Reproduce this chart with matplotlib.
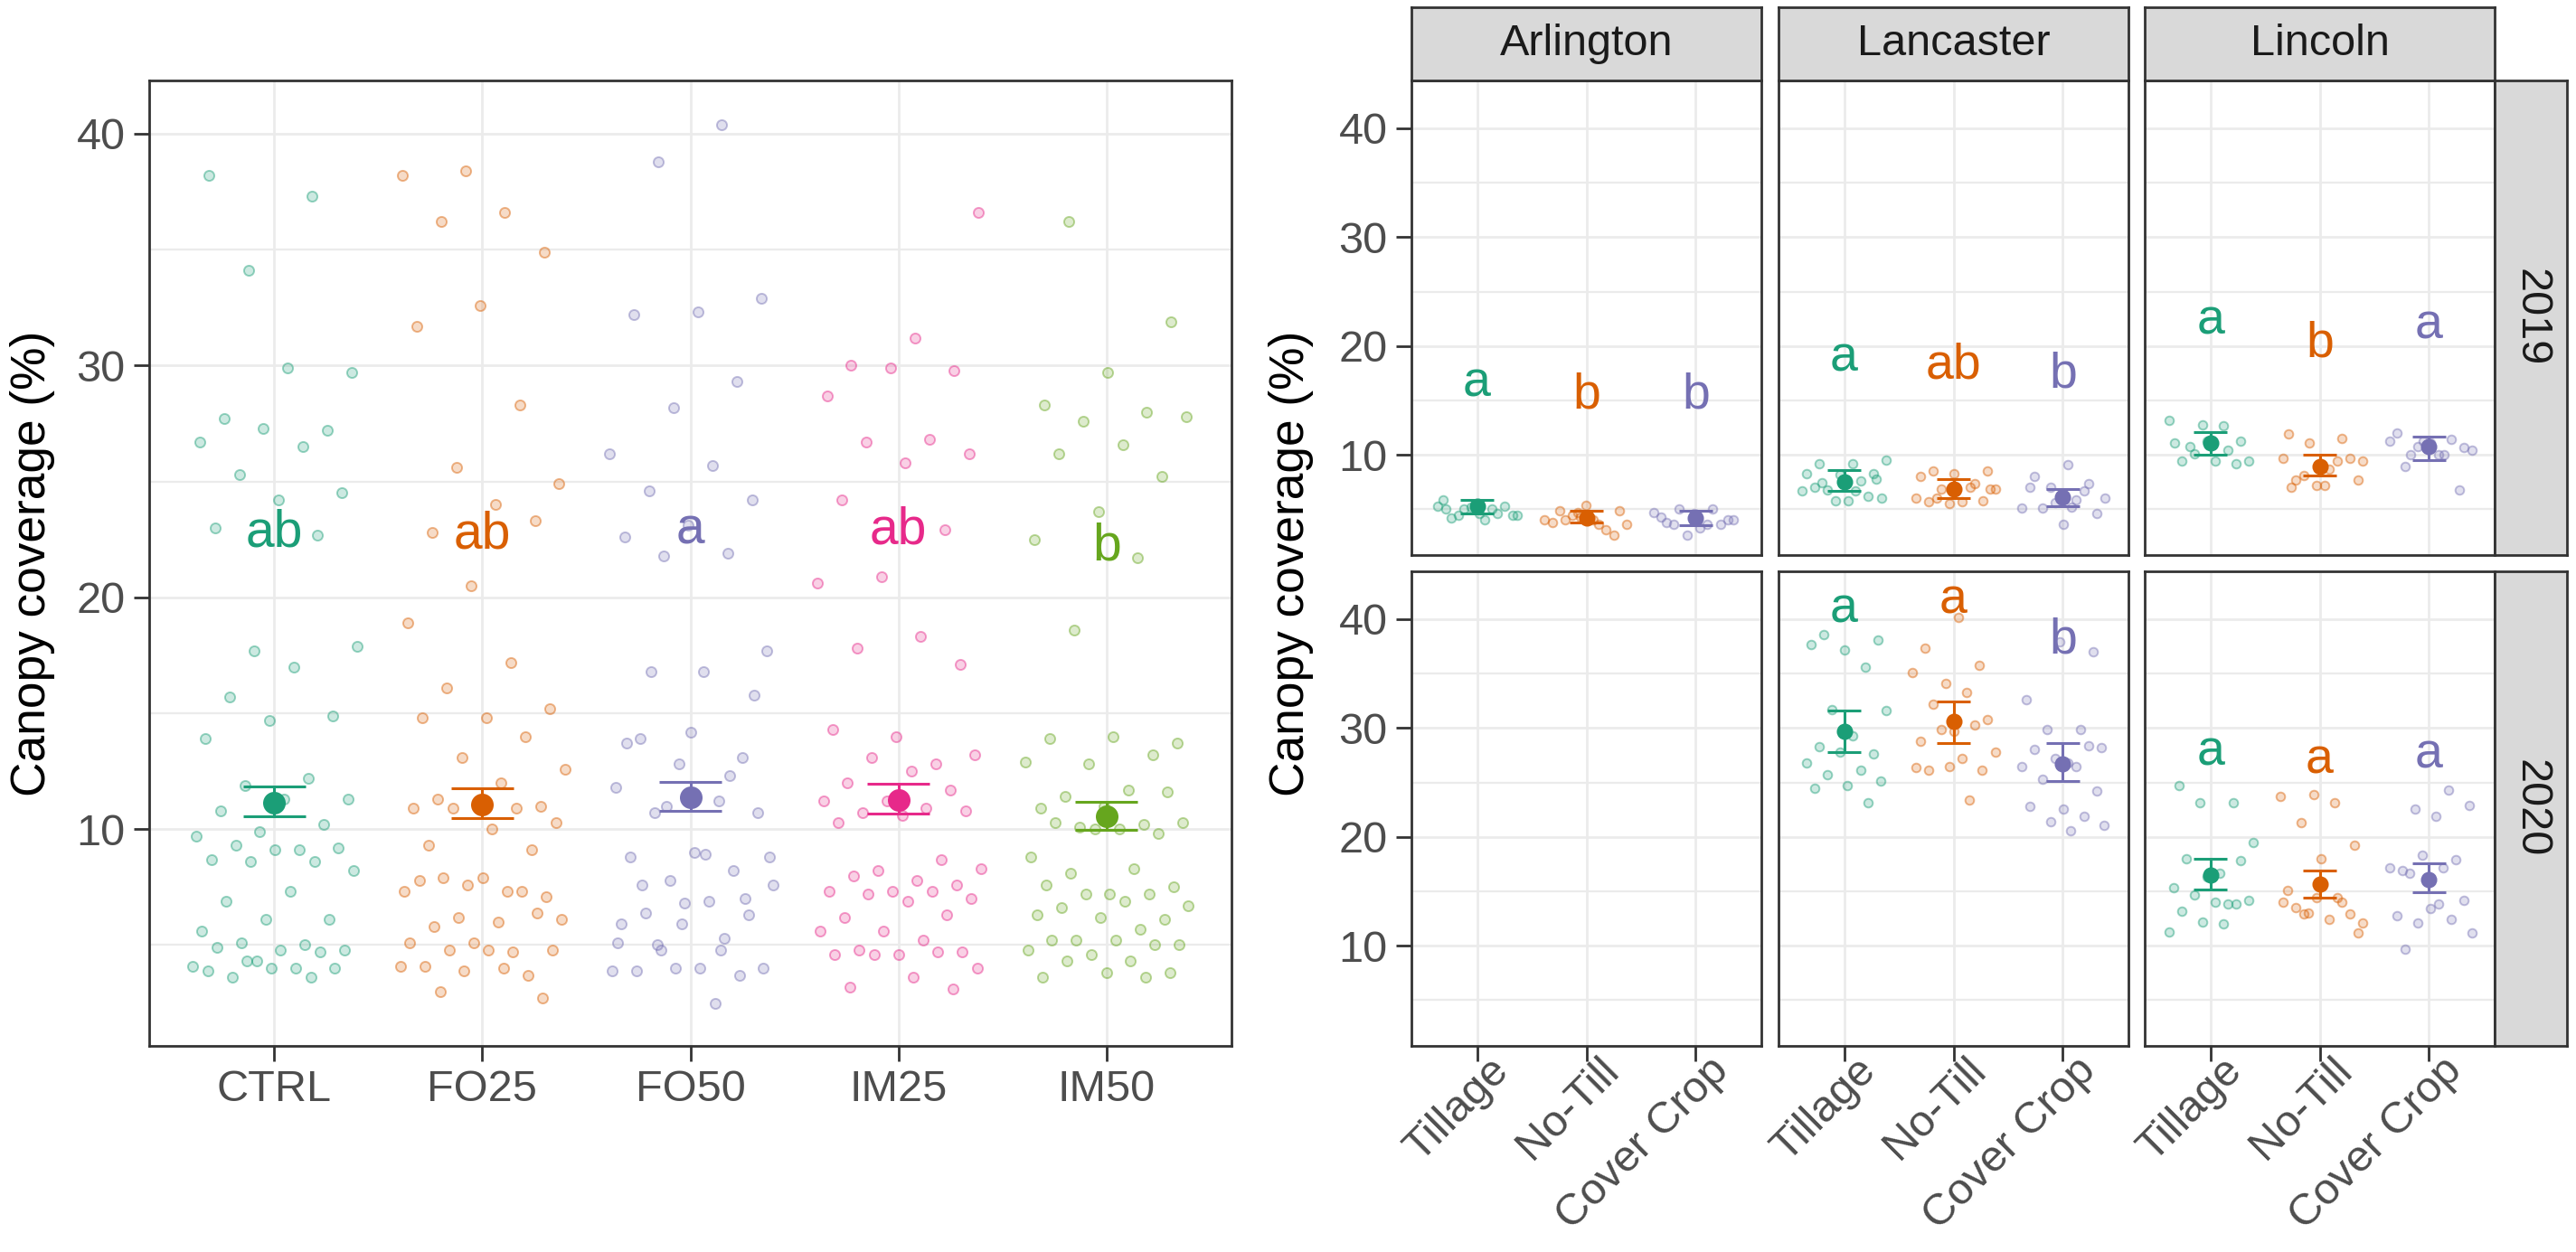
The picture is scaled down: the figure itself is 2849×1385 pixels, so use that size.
import numpy as np
import matplotlib
matplotlib.use("Agg")
import matplotlib.pyplot as plt
from matplotlib.colors import to_rgba
from matplotlib.transforms import ScaledTranslation

plt.rcParams['font.family'] = ['Liberation Sans', 'DejaVu Sans']

# ---- left panel data (canopy coverage by treatment) ----
treatments = ["CTRL", "FO25", "FO50", "IM25", "IM50"]
ctrl = [38.2, 37.3, 34.1, 29.7, 29.9, 27.7, 27.2, 27.3, 26.7, 26.5, 25.3, 24.5, 24.2, 23.0, 22.7,
        17.7, 17.9, 17.0, 15.7, 14.9, 14.7, 13.9, 12.2, 11.9, 11.3, 11.3, 10.8, 10.2, 9.9, 9.7,
        9.1, 9.3, 9.2, 9.1, 8.7, 8.6, 8.6, 8.2, 7.3, 6.9, 6.1, 6.1, 5.6, 5.0, 5.1, 4.8, 4.8,
        4.9, 4.7, 4.3, 4.1, 4.0, 3.6, 4.0, 4.0, 3.9, 3.6, 4.3]
fo25 = [38.4, 38.2, 36.6, 36.2, 34.9, 32.6, 31.7, 28.3, 25.6, 24.9, 24.0, 22.8, 23.3, 20.5,
        18.9, 17.2, 16.1, 15.2, 14.8, 14.8, 14.0, 13.1, 12.6, 12.0, 11.3, 11.0, 11.0, 10.9, 10.9,
        10.9, 10.3, 10.0, 9.3, 9.1, 7.6, 7.3, 7.3, 7.9, 7.1, 7.9, 7.8, 7.3, 6.2, 6.1, 6.0, 5.8,
        6.4, 5.1, 5.1, 4.7, 4.8, 4.8, 4.8, 4.1, 3.7, 3.9, 4.1, 4.0, 3.0, 2.7]
fo50 = [40.4, 38.8, 32.9, 32.3, 32.2, 29.3, 28.2, 26.2, 25.7, 24.6, 24.2, 23.1, 22.6, 21.9, 21.8,
        17.7, 16.8, 13.9, 13.1, 12.8, 11.8, 11.2, 10.7, 10.7, 9.0, 8.8, 8.2, 7.8, 7.6, 6.9, 6.4,
        6.3, 6.8, 5.9, 5.3, 4.8, 4.0, 4.0, 3.9, 3.7, 4.0, 3.9, 2.5,
        16.8, 15.8, 14.2, 13.7, 12.3, 11.0, 8.8, 8.9, 7.6, 7.0, 5.9, 5.1, 4.8, 5.0]
im25 = [36.6, 31.2, 30.0, 29.8, 29.9, 28.7, 26.8, 26.7, 26.2, 25.8, 24.2, 22.9, 20.9, 20.6,
        18.3, 17.8, 17.1, 14.0, 14.3, 12.8, 13.1, 13.2, 12.5, 12.0, 11.7, 11.2, 11.2, 10.9, 10.7,
        10.8, 10.6, 10.3, 8.7, 8.2, 8.3, 7.8, 8.0, 7.6, 7.3, 7.3, 7.3, 7.2, 7.0, 6.9, 6.2, 6.3,
        5.6, 5.6, 5.2, 4.8, 4.7, 4.6, 4.6, 4.7, 4.6, 4.0, 3.6, 3.2, 3.1]
im50 = [36.2, 31.9, 29.7, 28.3, 28.0, 27.6, 27.8, 26.6, 26.2, 25.2, 23.7, 22.5, 21.7,
        18.6, 13.7, 14.0, 13.9, 13.2, 12.8, 12.9, 11.7, 11.4, 11.6, 11.0, 10.9, 10.2, 10.1, 10.3,
        10.0, 10.3, 9.8, 10.0, 8.8, 8.3, 8.1, 7.5, 7.2, 7.6, 7.2, 7.2, 6.7, 6.9, 6.6, 6.1, 6.2,
        6.3, 5.7, 5.2, 5.0, 5.2, 5.2, 5.0, 4.6, 4.8, 4.3, 4.3, 3.8, 3.8, 3.6, 3.6]
trt_mean = [11.15, 11.08, 11.36, 11.26, 10.57]
trt_lower = [10.57, 10.47, 10.78, 10.68, 9.99]
trt_upper = [11.86, 11.76, 12.04, 11.96, 11.17]
trt_letters = ["ab", "ab", "a", "ab", "b"]
trt_letter_y = [22.2, 22.1, 22.3, 22.3, 21.6]

# ---- right panels data (site x year x system) ----
sites = ["Arlington", "Lancaster", "Lincoln"]
years = ["2019", "2020"]
systems = ["Tillage", "No-Till", "Cover Crop"]

arl19_till = [5.9, 4.6, 5.0, 4.45, 4.0, 4.2, 5.3, 5.2, 5.3, 5.0, 4.45, 4.45, 4.6, 5.0]
arl19_nt = [4.7, 4.0, 3.6, 4.0, 4.85, 5.4, 3.75, 3.1, 4.45, 3.6, 4.0, 4.85, 2.65, 4.3]
arl19_cc = [5.0, 5.0, 4.0, 3.3, 3.75, 3.6, 2.65, 4.7, 3.6, 3.6, 4.0, 4.6, 4.3]
lan19_till = [9.5, 9.2, 9.2, 8.3, 8.2, 8.3, 7.6, 6.8, 6.0, 5.8, 7.0, 6.2, 5.8, 6.7, 6.7, 7.45, 7.8]
lan19_nt = [8.55, 8.55, 8.3, 8.0, 7.4, 6.9, 6.9, 5.7, 5.7, 5.8, 5.5, 6.0, 7.0, 6.0, 6.9]
lan19_cc = [9.1, 8.0, 7.4, 5.6, 5.1, 5.9, 5.1, 4.65, 3.6, 7.0, 6.7, 7.0, 6.0, 5.2]
lin19_till = [11.25, 11.25, 11.1, 10.4, 10.1, 9.4, 9.4, 9.4, 9.2, 12.8, 13.2, 12.7, 10.8]
lin19_nt = [11.9, 11.5, 11.1, 9.4, 8.7, 7.7, 9.7, 7.2, 9.7, 9.4, 8.1, 7.7, 7.2, 7.0]
lin19_cc = [11.25, 11.25, 10.0, 10.0, 10.7, 11.1, 12.0, 11.4, 10.8, 10.4, 10.0, 8.95, 6.8]
lan20_till = [38.6, 38.1, 37.2, 37.7, 35.6, 31.7, 31.6, 29.3, 28.3, 27.6, 27.8, 26.8, 26.1,
              25.7, 25.1, 24.7, 24.5, 23.1]
lan20_nt = [40.2, 37.3, 35.8, 34.1, 35.1, 33.3, 32.2, 30.8, 29.7, 28.8, 30.3, 29.9, 27.8, 27.2,
            26.1, 26.1, 26.5, 26.4, 23.4]
lan20_cc = [37.0, 37.9, 32.6, 29.9, 29.9, 28.2, 26.8, 28.0, 28.4, 27.2, 26.5, 26.5, 25.3, 24.2,
            22.6, 22.8, 21.9, 21.4, 21.1, 20.6]
lin20_till = [24.7, 23.1, 23.1, 19.5, 16.7, 18.0, 17.8, 16.3, 15.3, 13.8, 14.7, 14.2, 14.0,
              13.2, 13.8, 12.2, 11.3, 12.0]
lin20_nt = [23.9, 23.7, 23.1, 21.3, 19.2, 18.0, 15.1, 14.0, 13.0, 12.1, 12.4, 13.5, 12.9, 14.4,
            14.0, 14.4, 12.9, 11.2]
lin20_cc = [24.3, 22.6, 22.9, 21.9, 16.9, 17.9, 18.3, 17.2, 17.2, 16.7, 14.2, 13.4, 12.8, 12.4,
            12.1, 11.2, 13.8, 9.7]

# estimated means with error bounds, rows = sites, cols = systems
mean_2019 = [[5.25, 4.22, 4.22], [7.5, 6.9, 6.1], [11.1, 8.9, 10.8]]
lower_2019 = [[4.64, 3.8, 3.53], [6.7, 6.0, 5.3], [10.05, 8.1, 9.5]]
upper_2019 = [[5.9, 4.83, 4.9], [8.6, 7.75, 6.9], [12.1, 10.0, 11.65]]
mean_2020 = [None, [29.7, 30.6, 26.7], [16.5, 15.7, 16.1]]
lower_2020 = [None, [27.8, 28.6, 25.1], [15.2, 14.4, 14.9]]
upper_2020 = [None, [31.6, 32.4, 28.6], [18.0, 16.9, 17.6]]
letters_2019 = [["a", "b", "b"], ["a", "ab", "b"], ["a", "b", "a"]]
letter_y_2019 = [[15.4, 14.3, 14.3], [17.7, 17.05, 16.2], [21.1, 19.0, 20.7]]
letters_2020 = [None, ["a", "a", "b"], ["a", "a", "a"]]
letter_y_2020 = [None, [39.7, 40.55, 36.9], [26.6, 25.8, 26.3]]

dark2 = ["#1B9E77", "#D95F02", "#7570B3", "#E7298A", "#66A61E"]

W, H = 2849, 1385
fig = plt.figure(figsize=(W / 200, H / 200), dpi=200)


def px_axes(x0, y0, x1, y1):
    return fig.add_axes([x0 / W, 1 - y1 / H, (x1 - x0) / W, (y1 - y0) / H])


def jitter(n, k, width=0.4):
    i = np.arange(n)
    return ((i * 0.6180339887 + 0.29 * k + 0.11) % 1.0 - 0.5) * 2 * width


def style_panel(ax, ncat):
    ax.set_xlim(0.4, ncat + 0.6)
    ax.set_xticks(np.arange(1, ncat + 1))
    ax.set_yticks([10, 20, 30, 40])
    ax.set_yticks([5, 15, 25, 35], minor=True)
    ax.set_axisbelow(True)
    ax.grid(which="major", color="#EBEBEB", lw=1.0)
    ax.grid(which="minor", axis="y", color="#EBEBEB", lw=0.8)
    for s in ax.spines.values():
        s.set_color("#333333")
        s.set_linewidth(1.0)
    ax.tick_params(which="major", length=6, width=1.0, color="#333333",
                   labelcolor="#4D4D4D", labelsize=17.5, pad=3.5)
    ax.tick_params(which="minor", length=0)


def draw_group(ax, pos, vals, m, lo, hi, lab, ly, col, k, pt_s, mean_ms, lsize):
    vals = np.asarray(vals)
    x = pos + jitter(len(vals), k)
    ax.scatter(x, vals, s=pt_s, facecolor=to_rgba(col, 0.22),
               edgecolor=to_rgba(col, 0.45), linewidths=0.7, zorder=2)
    ax.vlines(pos, lo, hi, color=col, lw=1.1, zorder=3)
    ax.hlines([lo, hi], pos - 0.15, pos + 0.15, color=col, lw=1.1, zorder=3)
    ax.plot(pos, m, "o", color=col, ms=mean_ms, mec=col, zorder=4)
    ax.text(pos, ly, lab, color=col, ha="center", va="baseline", fontsize=lsize, zorder=5)


# ---- left panel ----
axL = px_axes(165, 89, 1362, 1157)
style_panel(axL, len(treatments))
axL.set_ylim(0.65, 42.3)
left_vals = [ctrl, fo25, fo50, im25, im50]
for i, vals in enumerate(left_vals):
    draw_group(axL, i + 1, vals, trt_mean[i], trt_lower[i], trt_upper[i],
               trt_letters[i], trt_letter_y[i], dark2[i], i, 16, 8, 20.5)
axL.set_xticklabels(treatments)
fig.text(36 / W, 1 - 623 / H, "Canopy coverage (%)", rotation=90, ha="center",
         va="center", fontsize=19.2, color="black")

# ---- right facet grid ----
col_x = [(1561, 1948), (1967, 2354), (2372, 2759)]
row_y = [(89, 614), (632, 1157)]
data_2019 = [[arl19_till, arl19_nt, arl19_cc], [lan19_till, lan19_nt, lan19_cc],
             [lin19_till, lin19_nt, lin19_cc]]
data_2020 = [None, [lan20_till, lan20_nt, lan20_cc], [lin20_till, lin20_nt, lin20_cc]]
year_data = [(data_2019, mean_2019, lower_2019, upper_2019, letters_2019, letter_y_2019),
             (data_2020, mean_2020, lower_2020, upper_2020, letters_2020, letter_y_2020)]

label_shift = ScaledTranslation(0.065, 0.11, fig.dpi_scale_trans)

for r, (yd, ym, ylo, yhi, ylet, yly) in enumerate(year_data):
    for c, site in enumerate(sites):
        x0, x1 = col_x[c]
        y0, y1 = row_y[r]
        ax = px_axes(x0, y0, x1, y1)
        style_panel(ax, len(systems))
        ax.set_ylim(0.8, 44.4)
        if yd[c] is not None:
            for j in range(len(systems)):
                draw_group(ax, j + 1, yd[c][j], ym[c][j], ylo[c][j], yhi[c][j],
                           ylet[c][j], yly[c][j], dark2[j], j + 3 * c + r, 12, 5.5, 20)
        if c > 0:
            ax.tick_params(axis="y", which="both", left=False, labelleft=False)
        if r == 0:
            ax.tick_params(axis="x", which="both", bottom=False, labelbottom=False)
        else:
            ax.set_xticklabels(systems, rotation=45, ha="right", va="top",
                               rotation_mode="anchor")
            for lbl in ax.get_xticklabels():
                lbl.set_transform(lbl.get_transform() + label_shift)
        # column strip on top
        if r == 0:
            sa = px_axes(x0, 8, x1, 89)
            sa.set_facecolor("#D9D9D9")
            sa.set_xticks([])
            sa.set_yticks([])
            for s in sa.spines.values():
                s.set_color("#333333")
                s.set_linewidth(1.0)
            sa.text(0.5, 0.5, site, ha="center", va="center", fontsize=17.5,
                    color="#1A1A1A", transform=sa.transAxes)
    # row strip on right
    sr = px_axes(2759, row_y[r][0], 2839, row_y[r][1])
    sr.set_facecolor("#D9D9D9")
    sr.set_xticks([])
    sr.set_yticks([])
    for s in sr.spines.values():
        s.set_color("#333333")
        s.set_linewidth(1.0)
    sr.text(0.5, 0.5, years[r], ha="center", va="center", rotation=270, fontsize=17.5,
            color="#1A1A1A", transform=sr.transAxes)

fig.text(1428 / W, 1 - 623 / H, "Canopy coverage (%)", rotation=90, ha="center",
         va="center", fontsize=19.2, color="black")

fig.savefig("out.png", dpi=200, facecolor="white")
